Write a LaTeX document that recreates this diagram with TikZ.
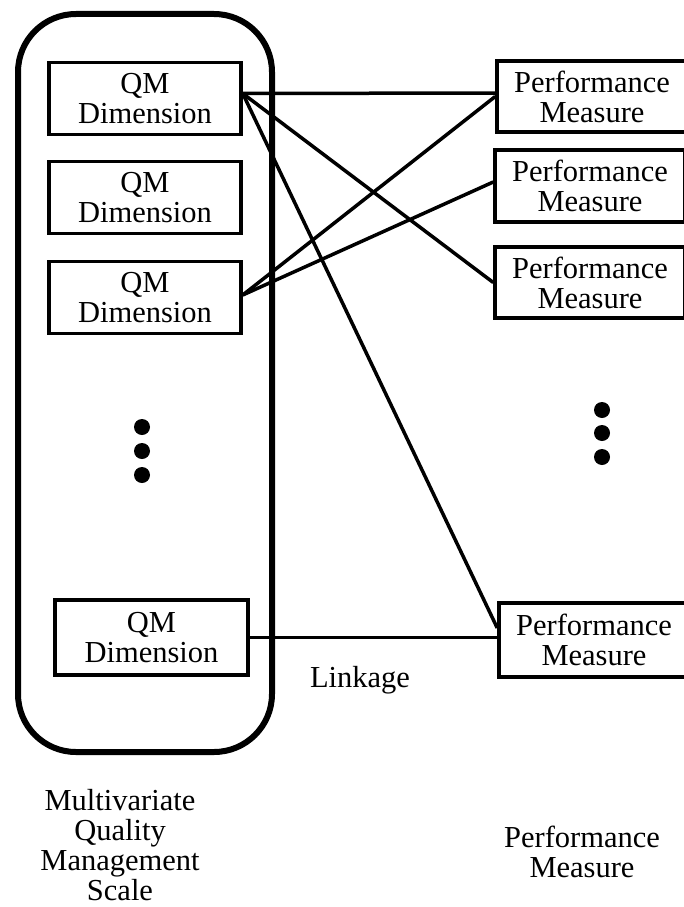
\documentclass[tikz,border=0pt]{standalone}
\usepackage{fontspec}
\setmainfont{Liberation Serif}
\usetikzlibrary{calc}
\begin{document}
\begin{tikzpicture}[x=1pt,y=-1pt,
  txt/.style={font=\fontsize{30.5}{30}\selectfont, align=center},
  qmbox/.style={txt, draw, line width=3.5pt, minimum width=192pt, minimum height=72pt, inner sep=0pt},
  pmbox/.style={txt, draw, line width=3.5pt, minimum width=190pt, minimum height=72pt, inner sep=0pt},
  link/.style={line width=3.5pt},
  dot/.style={circle, fill=black, minimum size=16pt, inner sep=0pt}]
\useasboundingbox (0,0) rectangle (684,907);
% outer rounded container
\draw[line width=6pt, rounded corners=58pt] (18,14) rectangle (272,752);
% QM boxes
\node[qmbox] (q1) at (145,98.5) {QM\\Dimension};
\node[qmbox] (q2) at (145,197.5) {QM\\Dimension};
\node[qmbox] (q3) at (145,297.5) {QM\\Dimension};
\node[qmbox, minimum width=193pt, minimum height=75pt] (q4) at (151.5,637.5) {QM\\Dimension};
% performance boxes
\node[pmbox, minimum height=71pt] (p1) at (592,96.5) {Performance\\Measure};
\node[pmbox] (p2) at (590,186) {Performance\\Measure};
\node[pmbox, minimum height=71pt] (p3) at (590,282.5) {Performance\\Measure};
\node[pmbox, minimum height=74pt] (p4) at (594,640) {Performance\\Measure};
% dots
\node[dot] (l1) at (142,427) {};
\node[dot] (l2) at (142,451) {};
\node[dot] (l3) at (142,475) {};
\node[dot] (r1) at (602,410) {};
\node[dot] (r2) at (602,433) {};
\node[dot] (r3) at (602,457) {};
% anchor points
\coordinate (q1e) at ([yshift=5pt]q1.east);
\coordinate (q3e) at ([yshift=2.5pt]q3.east);
\coordinate (p1a) at ([yshift=3.5pt]p1.west);
\coordinate (p2a) at ([yshift=4pt]p2.west);
\coordinate (p4a) at ([yshift=12pt]p4.west);
% linkages
\draw[link] (q1e) -- (p1a);
\draw[link] (q1e) -- (p3.west);
\draw[link] (q1e) -- (p4a);
\draw[link] (q3e) -- (p1.west);
\draw[link] (q3e) -- (p2a);
\draw[link] (q4.east) -- (q4.east -| p4.west);
% labels
\node[txt] (lk) at (360,680) {Linkage};
\node[txt] (ml) at (120,845) {Multivariate\\Quality\\Management\\Scale};
\node[txt] (pl) at (582,852) {Performance\\Measure};
\end{tikzpicture}
\end{document}
